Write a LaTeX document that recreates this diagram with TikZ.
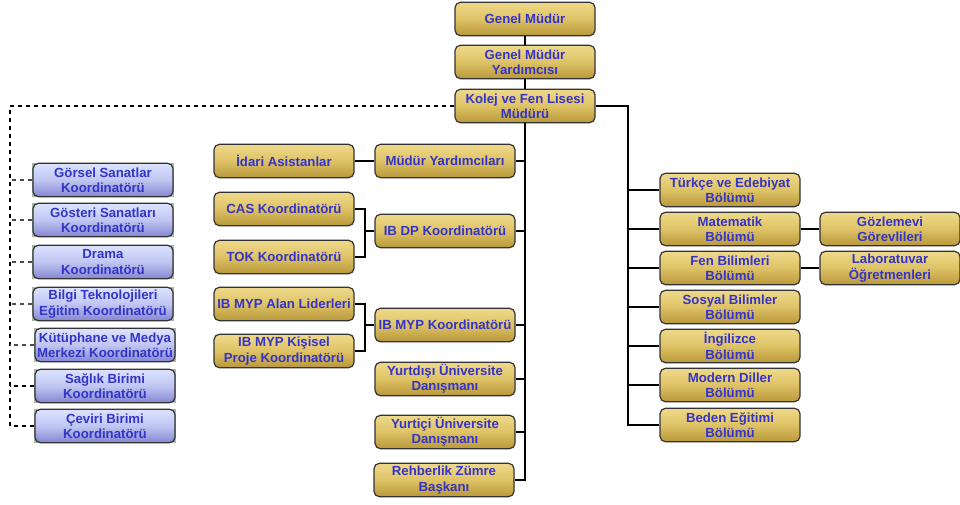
\documentclass[tikz,border=0pt]{standalone}
\usepackage{fontspec}
\setmainfont{Liberation Sans}
\usetikzlibrary{backgrounds}
\definecolor{goldtop}{HTML}{EFD98A}
\definecolor{goldmid}{HTML}{DEC266}
\definecolor{goldbot}{HTML}{B8983A}
\definecolor{bluetop}{HTML}{DCE3FF}
\definecolor{bluemid}{HTML}{C0C6F2}
\definecolor{bluebot}{HTML}{8486D2}
\definecolor{boxtext}{HTML}{3434C8}
\definecolor{coordbg}{HTML}{A9B8A6}

\begin{document}
\begin{tikzpicture}[x=0.75pt, y=-0.75pt,
  unit/.style={draw=black!80, line width=0.9pt, rounded corners=4pt,
    minimum width=105pt, minimum height=25pt, inner sep=1pt, align=center,
    font=\fontsize{9.9}{11.5}\selectfont\bfseries, text=boxtext,
    top color=goldtop, bottom color=goldbot, middle color=goldmid},
  coord/.style={unit, top color=bluetop, bottom color=bluebot, middle color=bluemid},
  trunk/.style={line width=1.3pt},
  branch/.style={line width=0.8pt},
  dotline/.style={dashed, line width=0.9pt}]
\useasboundingbox (0,0) rectangle (960,504);
% top of the chart
\node[unit] (gm) at (525,19) {Genel Müdür};
\node[unit] (gmy) at (525,62) {Genel Müdür\\Yardımcısı};
\node[unit] (kolej) at (525,106) {Kolej ve Fen Lisesi\\Müdürü};
% middle column
\node[unit] (myard) at (445,161) {Müdür Yardımcıları};
\node[unit] (ibdp) at (445,231) {IB DP Koordinatörü};
\node[unit] (ibmyp) at (445,325) {IB MYP Koordinatörü};
\node[unit] (yurtdisi) at (445,379) {Yurtdışı Üniversite\\Danışmanı};
\node[unit] (yurtici) at (445,432) {Yurtiçi Üniversite\\Danışmanı};
\node[unit] (rehber) at (444,480) {Rehberlik Zümre\\Başkanı};
% assistants and coordinators under the middle column
\node[unit] (idari) at (284,161) {İdari Asistanlar};
\node[unit] (cas) at (284,209) {CAS Koordinatörü};
\node[unit] (tok) at (284,257) {TOK Koordinatörü};
\node[unit] (alan) at (284,304) {IB MYP Alan Liderleri};
\node[unit] (kisisel) at (284,351) {IB MYP Kişisel\\Proje Koordinatörü};
% departments
\node[unit] (turkce) at (730,190) {Türkçe ve Edebiyat\\Bölümü};
\node[unit] (mat) at (730,229) {Matematik\\Bölümü};
\node[unit] (fen) at (730,268) {Fen Bilimleri\\Bölümü};
\node[unit] (sosyal) at (730,307) {Sosyal Bilimler\\Bölümü};
\node[unit] (ing) at (730,346) {İngilizce\\Bölümü};
\node[unit] (modern) at (730,385) {Modern Diller\\Bölümü};
\node[unit] (beden) at (730,425) {Beden Eğitimi\\Bölümü};
\node[unit] (gozlem) at (890,229) {Gözlemevi\\Görevlileri};
\node[unit] (lab) at (890,268) {Laboratuvar\\Öğretmenleri};
% unit coordinators (blue)
\node[coord] (gorsel) at (103,180) {Görsel Sanatlar\\Koordinatörü};
\node[coord] (gosteri) at (103,220) {Gösteri Sanatları\\Koordinatörü};
\node[coord] (drama) at (103,262) {Drama\\Koordinatörü};
\node[coord] (bilgi) at (103,304) {Bilgi Teknolojileri\\Eğitim Koordinatörü};
\node[coord] (kutup) at (105,345) {Kütüphane ve Medya\\Merkezi Koordinatörü};
\node[coord] (saglik) at (105,386) {Sağlık Birimi\\Koordinatörü};
\node[coord] (ceviri) at (105,426) {Çeviri Birimi\\Koordinatörü};
\begin{scope}[on background layer]
\foreach \n in {gorsel,gosteri,drama,bilgi,kutup,saglik,ceviri}
  \fill[coordbg] (\n.south west) rectangle (\n.north east);
\end{scope}
% connectors
\draw[branch] (gm) -- (gmy);
\draw[branch] (gmy) -- (kolej);
\draw[trunk] (kolej.south) -- (kolej.south |- rehber.east) -- (rehber.east);
\foreach \n in {myard,ibdp,ibmyp,yurtdisi,yurtici}
  \draw[branch] (\n.east) -- (\n.east -| kolej.south);
\draw[branch] (idari) -- (myard);
\coordinate (dpfork) at (365,231);
\draw[branch] (cas.east) -| (dpfork) |- (tok.east);
\draw[branch] (dpfork) -- (ibdp.west);
\coordinate (mypfork) at (365,325);
\draw[branch] (alan.east) -| (mypfork) |- (kisisel.east);
\draw[branch] (mypfork) -- (ibmyp.west);
% departments
\coordinate (rtrunk) at (628,106);
\draw[trunk] (kolej.east) -- (rtrunk) |- (beden.west);
\foreach \n in {turkce,mat,fen,sosyal,ing,modern}
  \draw[branch] (\n.west) -- (\n.west -| rtrunk);
\draw[branch] (mat) -- (gozlem);
\draw[branch] (fen) -- (lab);
% dashed link to the coordinators
\coordinate (ltrunk) at (10,106);
\draw[dotline] (kolej.west) -- (ltrunk) |- (ceviri.west);
\draw[dotline] (saglik.west) -- (saglik.west -| ltrunk);
\foreach \n in {gorsel,gosteri,drama,bilgi,kutup}
  \draw[dotline, black!70, line width=0.8pt] (\n.west) -- (\n.west -| ltrunk);
\end{tikzpicture}
\end{document}
